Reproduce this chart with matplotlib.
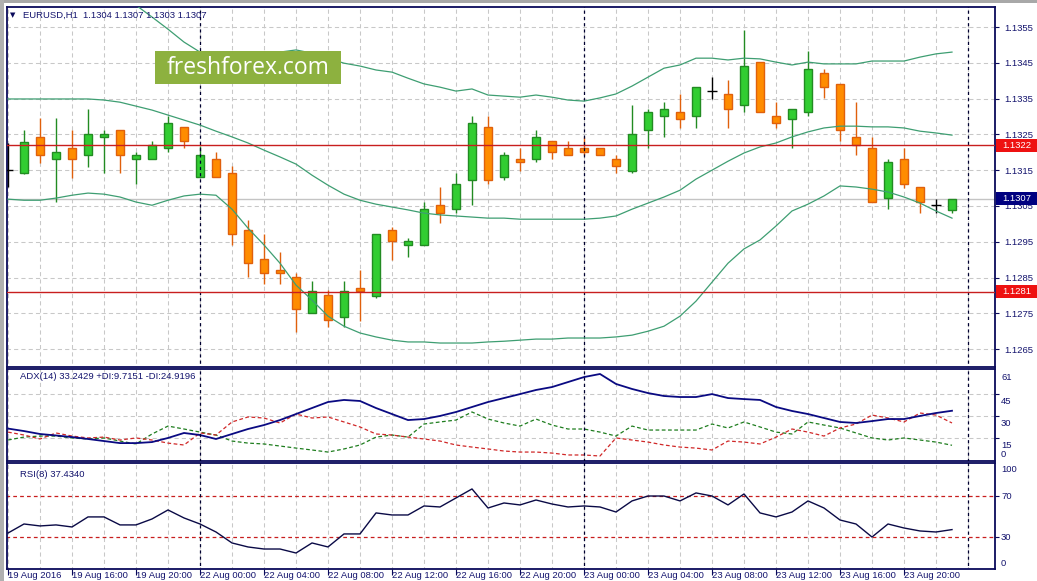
import matplotlib
matplotlib.use('Agg')
import matplotlib.pyplot as plt
import matplotlib.transforms as mtransforms
from matplotlib.patches import Rectangle

plt.rcParams['font.family'] = ['Liberation Sans', 'DejaVu Sans']

W, H = 1037, 581

# EURUSD H1, bars 19 Aug 2016 12:00 ... 23 Aug 2016 23:00
opens = [1.13150, 1.13142, 1.13243, 1.13181, 1.13212, 1.13192, 1.13243, 1.13262, 1.13181, 1.13181,
         1.13212, 1.13271, 1.13131, 1.13181, 1.13142, 1.12983, 1.12902, 1.12871, 1.12851, 1.12751,
         1.12801, 1.12739, 1.12820, 1.12798, 1.12983, 1.12941, 1.12941, 1.13052, 1.13041, 1.13122,
         1.13271, 1.13131, 1.13181, 1.13181, 1.13231, 1.13212, 1.13212, 1.13212, 1.13181, 1.13148,
         1.13262, 1.13301, 1.13312, 1.13301, 1.13371, 1.13363, 1.13332, 1.13452, 1.13301, 1.13293,
         1.13312, 1.13421, 1.13391, 1.13243, 1.13212, 1.13072, 1.13181, 1.13103, 1.13052, 1.13040]
highs = [1.13226, 1.13262, 1.13296, 1.13296, 1.13262, 1.13321, 1.13262, 1.13262, 1.13201, 1.13231,
         1.13301, 1.13271, 1.13218, 1.13201, 1.13161, 1.13011, 1.12971, 1.12921, 1.12862, 1.12840,
         1.12815, 1.12840, 1.12871, 1.12971, 1.12991, 1.12960, 1.13061, 1.13103, 1.13142, 1.13301,
         1.13301, 1.13201, 1.13212, 1.13262, 1.13231, 1.13231, 1.13243, 1.13212, 1.13192, 1.13332,
         1.13321, 1.13340, 1.13363, 1.13382, 1.13410, 1.13402, 1.13542, 1.13452, 1.13340, 1.13321,
         1.13483, 1.13433, 1.13391, 1.13340, 1.13243, 1.13181, 1.13212, 1.13103, 1.13069, 1.13070]
lows = [1.13103, 1.13139, 1.13170, 1.13061, 1.13128, 1.13159, 1.13142, 1.13142, 1.13111, 1.13181,
        1.13201, 1.13212, 1.13131, 1.13131, 1.12941, 1.12851, 1.12832, 1.12832, 1.12698, 1.12751,
        1.12712, 1.12712, 1.12728, 1.12793, 1.12899, 1.12907, 1.12941, 1.13002, 1.13030, 1.13052,
        1.13111, 1.13122, 1.13148, 1.13173, 1.13181, 1.13192, 1.13192, 1.13192, 1.13142, 1.13142,
        1.13212, 1.13243, 1.13268, 1.13268, 1.13349, 1.13268, 1.13312, 1.13312, 1.13268, 1.13212,
        1.13301, 1.13352, 1.13231, 1.13192, 1.13061, 1.13041, 1.13100, 1.13030, 1.13030, 1.13030]
closes = [1.13150, 1.13229, 1.13192, 1.13201, 1.13181, 1.13251, 1.13251, 1.13192, 1.13192, 1.13220,
          1.13282, 1.13231, 1.13192, 1.13131, 1.12971, 1.12890, 1.12862, 1.12862, 1.12762, 1.12812,
          1.12731, 1.12812, 1.12812, 1.12971, 1.12952, 1.12952, 1.13041, 1.13030, 1.13111, 1.13282,
          1.13122, 1.13192, 1.13173, 1.13243, 1.13201, 1.13192, 1.13201, 1.13192, 1.13161, 1.13251,
          1.13312, 1.13321, 1.13293, 1.13382, 1.13371, 1.13321, 1.13441, 1.13312, 1.13282, 1.13321,
          1.13433, 1.13382, 1.13262, 1.13220, 1.13061, 1.13173, 1.13111, 1.13061, 1.13052, 1.13070]

# bollinger bands
bb_upper = [1.13665, 1.13665, 1.13665, 1.13665, 1.13662, 1.13659, 1.13653, 1.13637, 1.13611, 1.13578,
            1.13544, 1.13508, 1.13480, 1.13475, 1.13472, 1.13472, 1.13475, 1.13480, 1.13486, 1.13477,
            1.13463, 1.13449, 1.13441, 1.13430, 1.13424, 1.13407, 1.13391, 1.13382, 1.13371, 1.13377,
            1.13360, 1.13357, 1.13354, 1.13360, 1.13354, 1.13346, 1.13343, 1.13352, 1.13363, 1.13385,
            1.13410, 1.13435, 1.13444, 1.13463, 1.13463, 1.13458, 1.13463, 1.13461, 1.13452, 1.13444,
            1.13452, 1.13447, 1.13447, 1.13447, 1.13455, 1.13455, 1.13455, 1.13466, 1.13475, 1.13480]
bb_middle = [1.13349, 1.13349, 1.13349, 1.13349, 1.13349, 1.13349, 1.13346, 1.13340, 1.13329, 1.13318,
             1.13304, 1.13290, 1.13276, 1.13259, 1.13243, 1.13226, 1.13206, 1.13187, 1.13167, 1.13136,
             1.13108, 1.13083, 1.13066, 1.13055, 1.13047, 1.13039, 1.13030, 1.13025, 1.13022, 1.13019,
             1.13016, 1.13016, 1.13013, 1.13013, 1.13013, 1.13013, 1.13013, 1.13016, 1.13022, 1.13041,
             1.13058, 1.13075, 1.13094, 1.13125, 1.13150, 1.13175, 1.13198, 1.13215, 1.13226, 1.13243,
             1.13257, 1.13268, 1.13273, 1.13273, 1.13271, 1.13271, 1.13268, 1.13259, 1.13254, 1.13248]
bb_lower = [1.13069, 1.13066, 1.13066, 1.13072, 1.13080, 1.13086, 1.13083, 1.13075, 1.13061, 1.13052,
            1.13066, 1.13078, 1.13083, 1.13080, 1.13041, 1.12988, 1.12941, 1.12890, 1.12829, 1.12787,
            1.12742, 1.12714, 1.12695, 1.12684, 1.12675, 1.12670, 1.12670, 1.12667, 1.12667, 1.12667,
            1.12670, 1.12672, 1.12675, 1.12678, 1.12678, 1.12681, 1.12681, 1.12681, 1.12684, 1.12689,
            1.12700, 1.12714, 1.12742, 1.12784, 1.12837, 1.12890, 1.12930, 1.12955, 1.12994, 1.13036,
            1.13055, 1.13078, 1.13106, 1.13103, 1.13097, 1.13089, 1.13075, 1.13058, 1.13036, 1.13016]

adx = [21.1, 19.4, 17.4, 16.4, 15.3, 14.0, 12.6, 11.2, 11.2, 11.9,
       14.7, 18.1, 16.7, 14.0, 17.4, 20.8, 23.5, 26.9, 31.0, 35.1,
       39.2, 40.6, 39.9, 35.1, 31.0, 26.9, 27.6, 29.7, 32.4, 35.8,
       39.2, 41.9, 44.6, 47.4, 49.4, 52.8, 56.2, 58.3, 51.5, 48.1,
       45.3, 43.3, 42.6, 42.6, 44.6, 41.9, 41.2, 40.6, 35.8, 33.1,
       31.0, 28.3, 25.6, 24.9, 26.2, 27.6, 27.6, 29.7, 31.7, 33.2429]
plus_di = [13.3, 15.3, 16.0, 16.0, 14.7, 14.0, 14.7, 12.6, 10.6, 17.4,
           22.8, 20.8, 18.7, 16.7, 12.6, 11.2, 10.6, 9.2, 7.8, 6.5,
           5.1, 7.2, 9.9, 15.3, 16.7, 15.3, 24.2, 25.6, 26.9, 32.4,
           27.6, 24.9, 22.8, 27.6, 23.5, 20.8, 20.8, 18.7, 16.0, 22.8,
           20.1, 20.1, 20.1, 20.1, 24.2, 21.5, 25.6, 22.2, 18.7, 17.4,
           25.6, 23.5, 21.5, 18.1, 14.7, 13.3, 14.7, 13.3, 11.9, 9.7151]
minus_di = [18.7, 16.7, 14.0, 18.1, 16.0, 14.7, 15.3, 13.3, 14.7, 13.3,
            11.2, 9.9, 18.1, 16.7, 25.6, 29.0, 28.3, 24.9, 31.0, 28.3,
            29.0, 25.6, 22.2, 17.4, 16.7, 15.3, 14.0, 12.6, 9.9, 8.5,
            7.2, 5.8, 5.1, 5.1, 4.4, 3.1, 3.1, 2.4, 14.7, 13.3,
            11.9, 9.9, 8.5, 7.8, 6.5, 12.6, 11.9, 10.6, 15.3, 20.8,
            18.7, 16.0, 21.5, 24.2, 30.3, 28.3, 25.6, 31.7, 30.3, 24.9196]
rsi = [34.1, 42.9, 41.0, 42.0, 40.0, 49.8, 49.8, 42.0, 42.0, 47.8,
       56.6, 48.8, 42.9, 35.1, 24.4, 20.5, 18.5, 18.5, 14.6, 24.4,
       20.5, 33.2, 33.2, 53.7, 51.7, 51.7, 60.5, 59.5, 68.3, 77.1,
       58.5, 63.4, 61.5, 66.3, 62.4, 59.5, 60.5, 59.5, 54.6, 65.4,
       70.2, 70.2, 65.4, 73.2, 70.2, 61.5, 72.2, 53.7, 49.8, 54.6,
       65.4, 58.5, 46.8, 42.9, 30.2, 42.9, 39.0, 36.1, 35.1, 37.434]

price_ticks = [1.1265, 1.1275, 1.1285, 1.1295, 1.1305, 1.1315, 1.1325, 1.1335, 1.1345, 1.1355]
time_labels = ['19 Aug 2016', '19 Aug 16:00', '19 Aug 20:00', '22 Aug 00:00', '22 Aug 04:00',
               '22 Aug 08:00', '22 Aug 12:00', '22 Aug 16:00', '22 Aug 20:00', '23 Aug 00:00',
               '23 Aug 04:00', '23 Aug 08:00', '23 Aug 12:00', '23 Aug 16:00', '23 Aug 20:00']
day_breaks = [12, 36, 60]
levels = [1.1322, 1.1281]
bid = 1.1307
rsi_levels = [70, 30]

navy = '#0A0A5A'
txt_col = '#14146E'
grid_col = '#C8C8C8'
fs = 6.8

fig = plt.figure(figsize=(W / 100, H / 100), dpi=100)
fig.patch.set_facecolor('white')

def px_rect(x0, y0, x1, y1):
    return [x0 / W, 1 - y1 / H, (x1 - x0) / W, (y1 - y0) / H]

ax = fig.add_axes(px_rect(7, 7, 995, 367))
ax_adx = fig.add_axes(px_rect(7, 369, 995, 461))
ax_rsi = fig.add_axes(px_rect(7, 463, 995, 569))

n = len(closes)
xs = list(range(n))
xlim = (-1 / 16, 987 / 16)

for a in (ax, ax_adx, ax_rsi):
    a.set_xlim(*xlim)
    for s in a.spines.values():
        s.set_color(navy)
        s.set_linewidth(1.3)
    # grid every 2 bars
    a.vlines(range(0, 62, 2), -10, 200, colors=grid_col, linewidth=0.75,
             linestyles=(0, (4, 3)), zorder=0)
    a.vlines(day_breaks, -10, 200, colors='#000030', linewidth=0.9,
             linestyles=(0, (2.5, 2.5)), zorder=5)
    a.tick_params(axis='x', bottom=False, labelbottom=False)
    a.yaxis.tick_right()
    a.tick_params(axis='y', direction='out', length=3, color=navy, width=0.8,
                  labelsize=fs, labelcolor=txt_col, pad=4)

# ---- main price chart ----
ax.set_ylim(1.12600, 1.13606)
ax.hlines(price_ticks, -5, 70, colors=grid_col, linewidth=0.75, linestyles=(0, (4, 3)), zorder=0)
ax.set_yticks(price_ticks)
ax.set_yticklabels(['%.4f' % p for p in price_ticks])
ax.axhline(bid, color='#C4C4C4', linewidth=1, zorder=1)

for i in xs:
    o, h, l, c = opens[i], highs[i], lows[i], closes[i]
    if c > o:
        fc, ec = '#32CD32', '#228B22'
    elif c < o:
        fc, ec = '#FF8C00', '#E0600C'
    else:
        fc, ec = None, 'black'
    ax.vlines(i, l, h, colors=ec, linewidth=1, zorder=3)
    if fc is None:
        ax.hlines(o, i - 0.32, i + 0.32, colors='black', linewidth=1, zorder=3)
    else:
        ax.add_patch(Rectangle((i - 0.28, min(o, c)), 0.56, abs(c - o),
                               facecolor=fc, edgecolor=ec, linewidth=1, zorder=4))

band_col = '#3E9E72'
ax.plot(xs, bb_upper, color=band_col, linewidth=0.9, zorder=6)
ax.plot(xs, bb_middle, color=band_col, linewidth=0.9, zorder=6)
ax.plot(xs, bb_lower, color=band_col, linewidth=0.9, zorder=6)

for lv in levels:
    ax.axhline(lv, color='#C81E1E', linewidth=1, zorder=6)

blend = mtransforms.blended_transform_factory(ax.transAxes, ax.transData)
for val, col in [(levels[0], '#EE1111'), (levels[1], '#EE1111'), (bid, '#000080')]:
    ax.add_patch(Rectangle((1 + 1 / 988, val - 0.000185), 41 / 988, 0.00037, transform=blend,
                           facecolor=col, edgecolor='none', clip_on=False, zorder=10))
    ax.text(1 + 7 / 988, val, '%.4f' % val, transform=blend, color='white', fontsize=fs,
            va='center', ha='left', zorder=11, clip_on=False)

fig.text(13 / W, 1 - 15 / H, '\u25bc', fontsize=5, color=navy, va='center', ha='center',
         family='DejaVu Sans')
fig.text(23 / W, 1 - 15 / H, 'EURUSD,H1  1.1304 1.1307 1.1303 1.1307', fontsize=fs,
         color=txt_col, va='center', ha='left')

# logo
fig.add_artist(Rectangle((155 / W, 1 - 84 / H), 186 / W, 33 / H, transform=fig.transFigure,
                         facecolor='#8DB13F', edgecolor='none', zorder=20))
fig.text(248 / W, 1 - 68 / H, 'freshforex.com', fontsize=16.5, color='white',
         ha='center', va='center', family='Open Sans', zorder=21)

# ---- ADX ----
ax_adx.set_ylim(-1.0, 61.7)
ax_adx.hlines([15, 30, 45], -5, 70, colors=grid_col, linewidth=0.75, linestyles=(0, (4, 3)), zorder=0)
ax_adx.plot(xs, adx, color='#0A0A82', linewidth=1.3, zorder=4)
ax_adx.plot(xs, plus_di, color='#1E7D1E', linewidth=0.9, linestyle=(0, (3, 2)), zorder=3)
ax_adx.plot(xs, minus_di, color='#D02828', linewidth=0.9, linestyle=(0, (3, 2)), zorder=3)
ax_adx.set_yticks([15, 30, 45])
ax_adx.set_yticklabels([])
blend_adx = mtransforms.blended_transform_factory(ax_adx.transAxes, ax_adx.transData)
lab_tr = mtransforms.offset_copy(blend_adx, fig=fig, x=6, y=-3, units='dots')
for v in [61, 45, 30, 15]:
    ax_adx.text(1, v, str(v), transform=lab_tr, fontsize=fs, color=txt_col, va='top',
                ha='left', clip_on=False)
ax_adx.text(1, 0, '0', transform=mtransforms.offset_copy(blend_adx, fig=fig, x=6, y=1, units='dots'),
            fontsize=fs, color=txt_col, va='bottom', ha='left', clip_on=False)
ax_adx.text(13 / 988, 0.92, 'ADX(14) 33.2429 +DI:9.7151 -DI:24.9196', transform=ax_adx.transAxes,
            fontsize=fs, color=txt_col, va='center', ha='left')

# ---- RSI ----
ax_rsi.set_ylim(-1.0, 102.4)
ax_rsi.hlines(rsi_levels, -5, 70, colors='#C81E1E', linewidth=0.9, linestyles=(0, (3, 2.5)), zorder=2)
ax_rsi.plot(xs, rsi, color='#0A0A46', linewidth=1, zorder=4)
ax_rsi.set_yticks(rsi_levels)
ax_rsi.set_yticklabels([])
blend_rsi = mtransforms.blended_transform_factory(ax_rsi.transAxes, ax_rsi.transData)
off_rsi = mtransforms.offset_copy(blend_rsi, fig=fig, x=6, y=0, units='dots')
ax_rsi.text(1, 100, '100', transform=off_rsi, fontsize=fs, color=txt_col, va='top', ha='left', clip_on=False)
for v in rsi_levels:
    ax_rsi.text(1, v, str(v), transform=off_rsi, fontsize=fs, color=txt_col, va='center',
                ha='left', clip_on=False)
ax_rsi.text(1, 0, '0', transform=off_rsi, fontsize=fs, color=txt_col, va='bottom', ha='left', clip_on=False)
ax_rsi.text(13 / 988, 0.89, 'RSI(8) 37.4340', transform=ax_rsi.transAxes,
            fontsize=fs, color=txt_col, va='center', ha='left')

ax_rsi.set_xticks(range(0, 57, 4))
ax_rsi.set_xticklabels(time_labels)
ax_rsi.tick_params(axis='x', bottom=True, labelbottom=True, direction='out', length=4,
                   color=navy, width=0.8, labelsize=fs, labelcolor=txt_col, pad=-2.2)
for lab in ax_rsi.get_xticklabels():
    lab.set_horizontalalignment('left')

# window frame strips
fig.add_artist(Rectangle((0, 1 - 3 / H), 1, 3 / H, transform=fig.transFigure,
                         facecolor='#A8A8A8', edgecolor='none'))
fig.add_artist(Rectangle((0, 0), 4 / W, 1, transform=fig.transFigure,
                         facecolor='#B0B0B0', edgecolor='none'))

fig.savefig('out.png', dpi=100)
